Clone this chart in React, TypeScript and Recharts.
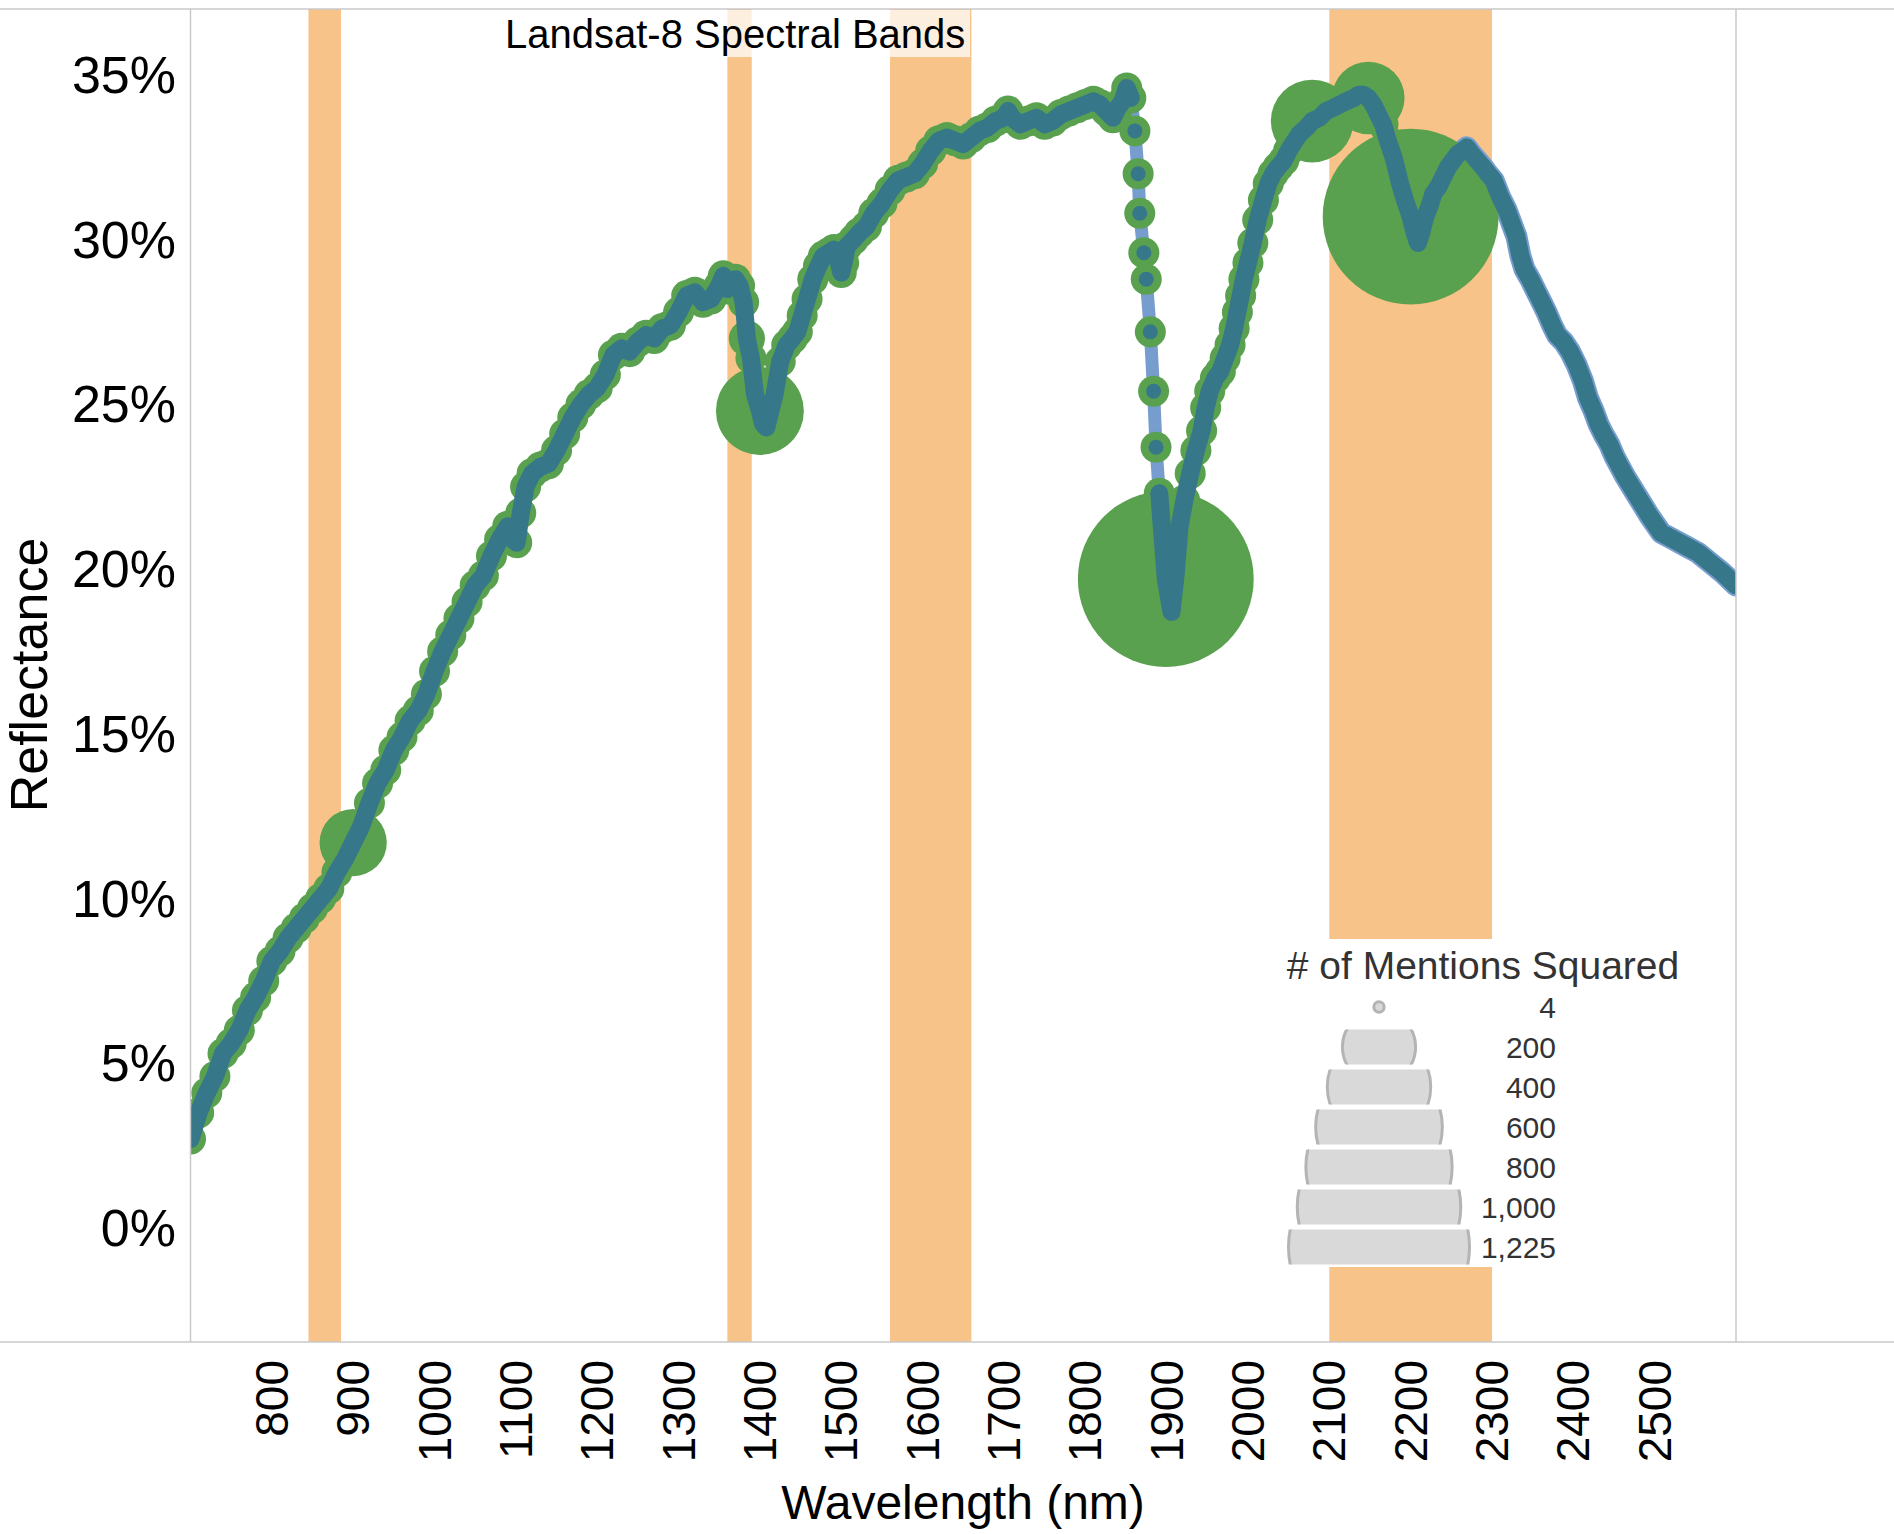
import React from 'react';
import { ComposedChart, Line, XAxis, YAxis, ReferenceArea } from 'recharts';

// ---- data ----
const WAVELENGTH = [
  700, 710, 720, 730, 740, 750, 760, 770, 780, 790,
  800, 810, 820, 830, 840, 850, 860, 870, 880, 890,
  900, 910, 920, 930, 940, 950, 960, 970, 980, 990,
  1000, 1010, 1020, 1030, 1040, 1050, 1060, 1070, 1080, 1090,
  1096, 1101, 1106, 1112, 1120, 1130, 1140, 1150, 1160, 1170,
  1180, 1190, 1200, 1210, 1220, 1230, 1240, 1250, 1260, 1270,
  1280, 1290, 1300, 1310, 1320, 1330, 1340, 1350, 1355, 1360,
  1365, 1370, 1375, 1380, 1384, 1389, 1394, 1400, 1404, 1408,
  1413, 1418, 1425, 1433, 1440, 1446, 1452, 1458, 1465, 1472,
  1478, 1485, 1491, 1497, 1500, 1503, 1507, 1515, 1522, 1531,
  1540, 1550, 1560, 1570, 1580, 1590, 1600, 1610, 1620, 1630,
  1640, 1650, 1660, 1670, 1680, 1690, 1700, 1705, 1710, 1720,
  1730, 1740, 1750, 1760, 1770, 1780, 1790, 1800, 1810, 1818,
  1826, 1834, 1840, 1846, 1851, 1856, 1861, 1865, 1867, 1872,
  1875, 1880, 1884, 1887, 1891, 1899, 1906, 1911, 1916, 1922,
  1929, 1936, 1943, 1948, 1953, 1960, 1966, 1972, 1978, 1983,
  1987, 1991, 1995, 2000, 2006, 2012, 2019, 2025, 2031, 2037,
  2044, 2050, 2055, 2063, 2072, 2079, 2088, 2096, 2105, 2113,
  2121, 2130, 2136, 2142, 2148, 2154, 2160, 2166, 2172, 2179,
  2187, 2193, 2200, 2205, 2209, 2213, 2218, 2223, 2228, 2234,
  2240, 2246, 2252, 2258, 2264, 2269, 2275, 2282, 2289, 2295,
  2302, 2310, 2318, 2324, 2330, 2335, 2340, 2347, 2355, 2361,
  2367, 2374, 2380, 2388, 2396, 2404, 2412, 2418, 2425, 2431,
  2437, 2444, 2451, 2464, 2479, 2494, 2508, 2523, 2538, 2553,
  2568, 2583, 2600,
];

const REFLECTANCE = [
  2.7, 3.5, 4.1, 4.6, 5.3, 5.6, 6.0, 6.6, 7.0, 7.5,
  8.1, 8.4, 8.8, 9.1, 9.4, 9.7, 10.0, 10.3, 10.8, 11.2,
  11.7, 12.2, 12.9, 13.5, 13.9, 14.5, 14.9, 15.4, 15.7, 16.2,
  16.9, 17.5, 18.0, 18.5, 19.0, 19.5, 19.8, 20.4, 20.9, 21.3,
  20.9, 20.8, 21.7, 22.5, 22.9, 23.1, 23.2, 23.6, 24.1, 24.6,
  25.0, 25.3, 25.5, 25.9, 26.5, 26.7, 26.6, 26.9, 27.1, 27.0,
  27.3, 27.4, 27.8, 28.3, 28.4, 28.1, 28.2, 28.6, 28.9, 28.5,
  28.6, 28.8, 28.6, 28.1, 27.0, 26.4, 25.3, 24.8, 24.4, 24.3,
  24.8, 25.3, 26.3, 26.8, 27.0, 27.2, 27.7, 28.2, 28.8, 29.2,
  29.5, 29.6, 29.7, 29.3, 29.0, 29.3, 29.8, 30.0, 30.2, 30.4,
  30.8, 31.1, 31.5, 31.8, 31.9, 32.0, 32.3, 32.7, 33.0, 33.1,
  33.0, 32.9, 33.1, 33.3, 33.4, 33.6, 33.7, 33.9, 33.7, 33.5,
  33.6, 33.7, 33.5, 33.6, 33.8, 33.9, 34.0, 34.1, 34.2, 34.1,
  33.9, 33.7, 34.0, 34.2, 34.6, 34.3, 33.3, 32.0, 30.8, 29.6,
  28.8, 27.2, 25.4, 23.7, 22.3, 19.7, 18.7, 19.8, 21.3, 22.1,
  22.9, 23.6, 24.2, 24.9, 25.4, 25.8, 26.0, 26.4, 26.8, 27.3,
  27.8, 28.3, 28.8, 29.3, 29.9, 30.6, 31.2, 31.7, 32.0, 32.2,
  32.4, 32.7, 32.9, 33.2, 33.4, 33.6, 33.7, 33.9, 34.0, 34.1,
  34.2, 34.3, 34.4, 34.4, 34.3, 34.1, 33.8, 33.5, 33.0, 32.5,
  31.7, 31.2, 30.7, 30.2, 29.9, 30.2, 30.7, 31.0, 31.4, 31.6,
  31.9, 32.2, 32.4, 32.6, 32.7, 32.8, 32.6, 32.4, 32.2, 32.0,
  31.8, 31.3, 30.9, 30.5, 30.1, 29.5, 29.1, 28.8, 28.4, 28.1,
  27.8, 27.4, 27.1, 26.9, 26.6, 26.2, 25.7, 25.2, 24.8, 24.4,
  24.1, 23.8, 23.4, 22.8, 22.2, 21.6, 21.1, 20.9, 20.7, 20.5,
  20.2, 19.9, 19.5,
];

// # of mentions squared: large marks, the rest of the marked range uses the base size
const BIG_MENTION_NM = [900, 1384, 1400, 1899, 2079, 2148, 2200];
const BIG_MENTION_VALUE = [169, 49, 289, 1156, 256, 196, 1156];
const BASE_MENTIONS = 36;
const MENTIONS_LAST_NM = 2234;

// wavelengths where the dark line is broken (only its points are drawn)
const DARK_LINE_GAP = [1858, 1889];

// Landsat-8 bands
const BAND_START = [845, 1360, 1560, 2100];
const BAND_END = [885, 1390, 1660, 2300];

const X_TICKS = [800, 900, 1000, 1100, 1200, 1300, 1400, 1500, 1600, 1700, 1800, 1900, 2000, 2100, 2200, 2300, 2400, 2500];
const Y_TICKS = [0, 5, 10, 15, 20, 25, 30, 35];

const LEGEND_VALUES = [4, 200, 400, 600, 800, 1000, 1225];
const LEGEND_LABELS = ['4', '200', '400', '600', '800', '1,000', '1,225'];

const M_MAX = 1225;
const R_MAX = 90.5;

const data = WAVELENGTH.map((nm, i) => {
  const bi = BIG_MENTION_NM.indexOf(nm);
  const m = bi >= 0 ? BIG_MENTION_VALUE[bi] : nm <= MENTIONS_LAST_NM ? BASE_MENTIONS : null;
  const inGap = nm > DARK_LINE_GAP[0] && nm < DARK_LINE_GAP[1];
  return {
    nm,
    r: REFLECTANCE[i],
    m,
    dark: inGap ? null : REFLECTANCE[i],
    tail: nm >= MENTIONS_LAST_NM ? REFLECTANCE[i] : null,
  };
});

const FONT = '"Liberation Sans", Arial, Helvetica, sans-serif';
const GREEN = '#59a14f';
const TEAL = '#36778a';
const LIGHT_BLUE = '#779dcf';
const BAND = '#f8c388';
const BORDER = '#c9c9c9';

const W = 1894;
const H = 1534;
const PLOT_L = 190.5;
const PLOT_R = 1736;
const PLOT_T = 9;
const PLOT_B = 1342;

const GreenDot = (p: any) => {
  const m = p.payload ? p.payload.m : null;
  if (m == null || p.cx == null || p.cy == null) return <g key={`gd${p.index}`} />;
  return <circle key={`gd${p.index}`} cx={p.cx} cy={p.cy} r={R_MAX * Math.sqrt(m / M_MAX)} fill={GREEN} />;
};

const TealDot = (p: any) => {
  if (p.cx == null || p.cy == null) return <g key={`td${p.index}`} />;
  return <circle key={`td${p.index}`} cx={p.cx} cy={p.cy} r={7.5} fill={TEAL} />;
};

const XTick = (p: any) => (
  <text
    x={p.x}
    y={1360}
    transform={`rotate(-90 ${p.x} 1360)`}
    textAnchor="end"
    dominantBaseline="central"
    fontSize={46}
    fontFamily={FONT}
    fill="#000"
  >
    {p.payload.value}
  </text>
);

const YTick = (p: any) => (
  <text x={176} y={p.y} textAnchor="end" dominantBaseline="central" fontSize={52} fontFamily={FONT} fill="#000">
    {`${p.payload.value}%`}
  </text>
);

const Overlay = () => {
  const rowH = 35;
  const firstY = 1007;
  const step = 40;
  const cx = 1379;
  return (
    <svg width={W} height={H} style={{ position: 'absolute', left: 0, top: 0, pointerEvents: 'none' }}>
      {/* pane borders */}
      <line x1={0} y1={PLOT_T} x2={W} y2={PLOT_T} stroke={BORDER} strokeWidth={1.5} />
      <line x1={0} y1={PLOT_B} x2={W} y2={PLOT_B} stroke={BORDER} strokeWidth={1.5} />
      <line x1={PLOT_L} y1={PLOT_T} x2={PLOT_L} y2={PLOT_B} stroke={BORDER} strokeWidth={1.5} />
      <line x1={PLOT_R} y1={PLOT_T} x2={PLOT_R} y2={PLOT_B} stroke={BORDER} strokeWidth={1.5} />

      {/* title box */}
      <rect x={498} y={10} width={472} height={47} fill="#fff" fillOpacity={0.73} />
      <text x={505} y={48} fontSize={40} fontFamily={FONT} fill="#000">
        Landsat-8 Spectral Bands
      </text>

      {/* axis titles */}
      <text
        x={29}
        y={675}
        transform="rotate(-90 29 675)"
        textAnchor="middle"
        dominantBaseline="central"
        fontSize={52}
        fontFamily={FONT}
        fill="#000"
      >
        Reflectance
      </text>
      <text x={963} y={1502} textAnchor="middle" dominantBaseline="central" fontSize={48} fontFamily={FONT} fill="#000">
        Wavelength (nm)
      </text>

      {/* size legend */}
      <rect x={1272} y={939} width={428} height={328} fill="#fff" />
      <text x={1483} y={979} textAnchor="middle" fontSize={39} fontFamily={FONT} fill="#333">
        # of Mentions Squared
      </text>
      <defs>
        {LEGEND_VALUES.map((v, i) => (
          <clipPath id={`lgclip${i}`} key={`c${i}`}>
            <rect x={1270} y={firstY + i * step - rowH / 2} width={230} height={rowH} />
          </clipPath>
        ))}
      </defs>
      {LEGEND_VALUES.map((v, i) => {
        const yc = firstY + i * step;
        const r = R_MAX * Math.sqrt(v / M_MAX);
        return (
          <g key={`l${i}`}>
            <circle
              cx={cx}
              cy={yc}
              r={r}
              fill="#d9d9d9"
              stroke="#b4b4b4"
              strokeWidth={3}
              clipPath={`url(#lgclip${i})`}
            />
            <text x={1556} y={yc} textAnchor="end" dominantBaseline="central" fontSize={30} fontFamily={FONT} fill="#333">
              {LEGEND_LABELS[i]}
            </text>
          </g>
        );
      })}
    </svg>
  );
};

export default function App() {
  const zProps = (z: number) => ({ zIndex: z } as any);
  return (
    <div style={{ position: 'absolute', left: 0, top: 0, width: W, height: H, background: '#fff', fontFamily: FONT }}>
      <ComposedChart
        width={W}
        height={H}
        data={data}
        margin={{ top: PLOT_T, right: W - PLOT_R, bottom: 42, left: PLOT_L - 100 }}
      >
        <XAxis
          type="number"
          dataKey="nm"
          domain={[700, 2600]}
          ticks={X_TICKS}
          interval={0}
          tick={<XTick />}
          axisLine={false}
          tickLine={false}
          height={150}
          allowDataOverflow
        />
        <YAxis
          type="number"
          domain={[-3.46, 37]}
          ticks={Y_TICKS}
          interval={0}
          tick={<YTick />}
          axisLine={false}
          tickLine={false}
          width={100}
          allowDataOverflow
        />
        {BAND_START.map((s, i) => (
          <ReferenceArea
            key={`band${i}`}
            x1={s}
            x2={BAND_END[i]}
            fill={BAND}
            fillOpacity={1}
            stroke="none"
            ifOverflow="hidden"
            {...zProps(50)}
          />
        ))}
        <Line
          dataKey="r"
          stroke={LIGHT_BLUE}
          strokeWidth={13}
          strokeLinejoin="round"
          strokeLinecap="round"
          dot={false}
          activeDot={false}
          isAnimationActive={false}
          {...zProps(400)}
        />
        <Line
          dataKey="tail"
          stroke={LIGHT_BLUE}
          strokeWidth={22}
          strokeLinejoin="round"
          strokeLinecap="round"
          dot={false}
          activeDot={false}
          isAnimationActive={false}
          {...zProps(410)}
        />
        <Line dataKey="r" stroke="none" dot={GreenDot} activeDot={false} isAnimationActive={false} {...zProps(1300)} />
        <Line dataKey="r" stroke="none" dot={TealDot} activeDot={false} isAnimationActive={false} {...zProps(1400)} />
        <Line
          dataKey="dark"
          stroke={TEAL}
          strokeWidth={18}
          strokeLinejoin="round"
          strokeLinecap="round"
          dot={false}
          activeDot={false}
          connectNulls={false}
          isAnimationActive={false}
          {...zProps(1900)}
        />
      </ComposedChart>
      <Overlay />
    </div>
  );
}
